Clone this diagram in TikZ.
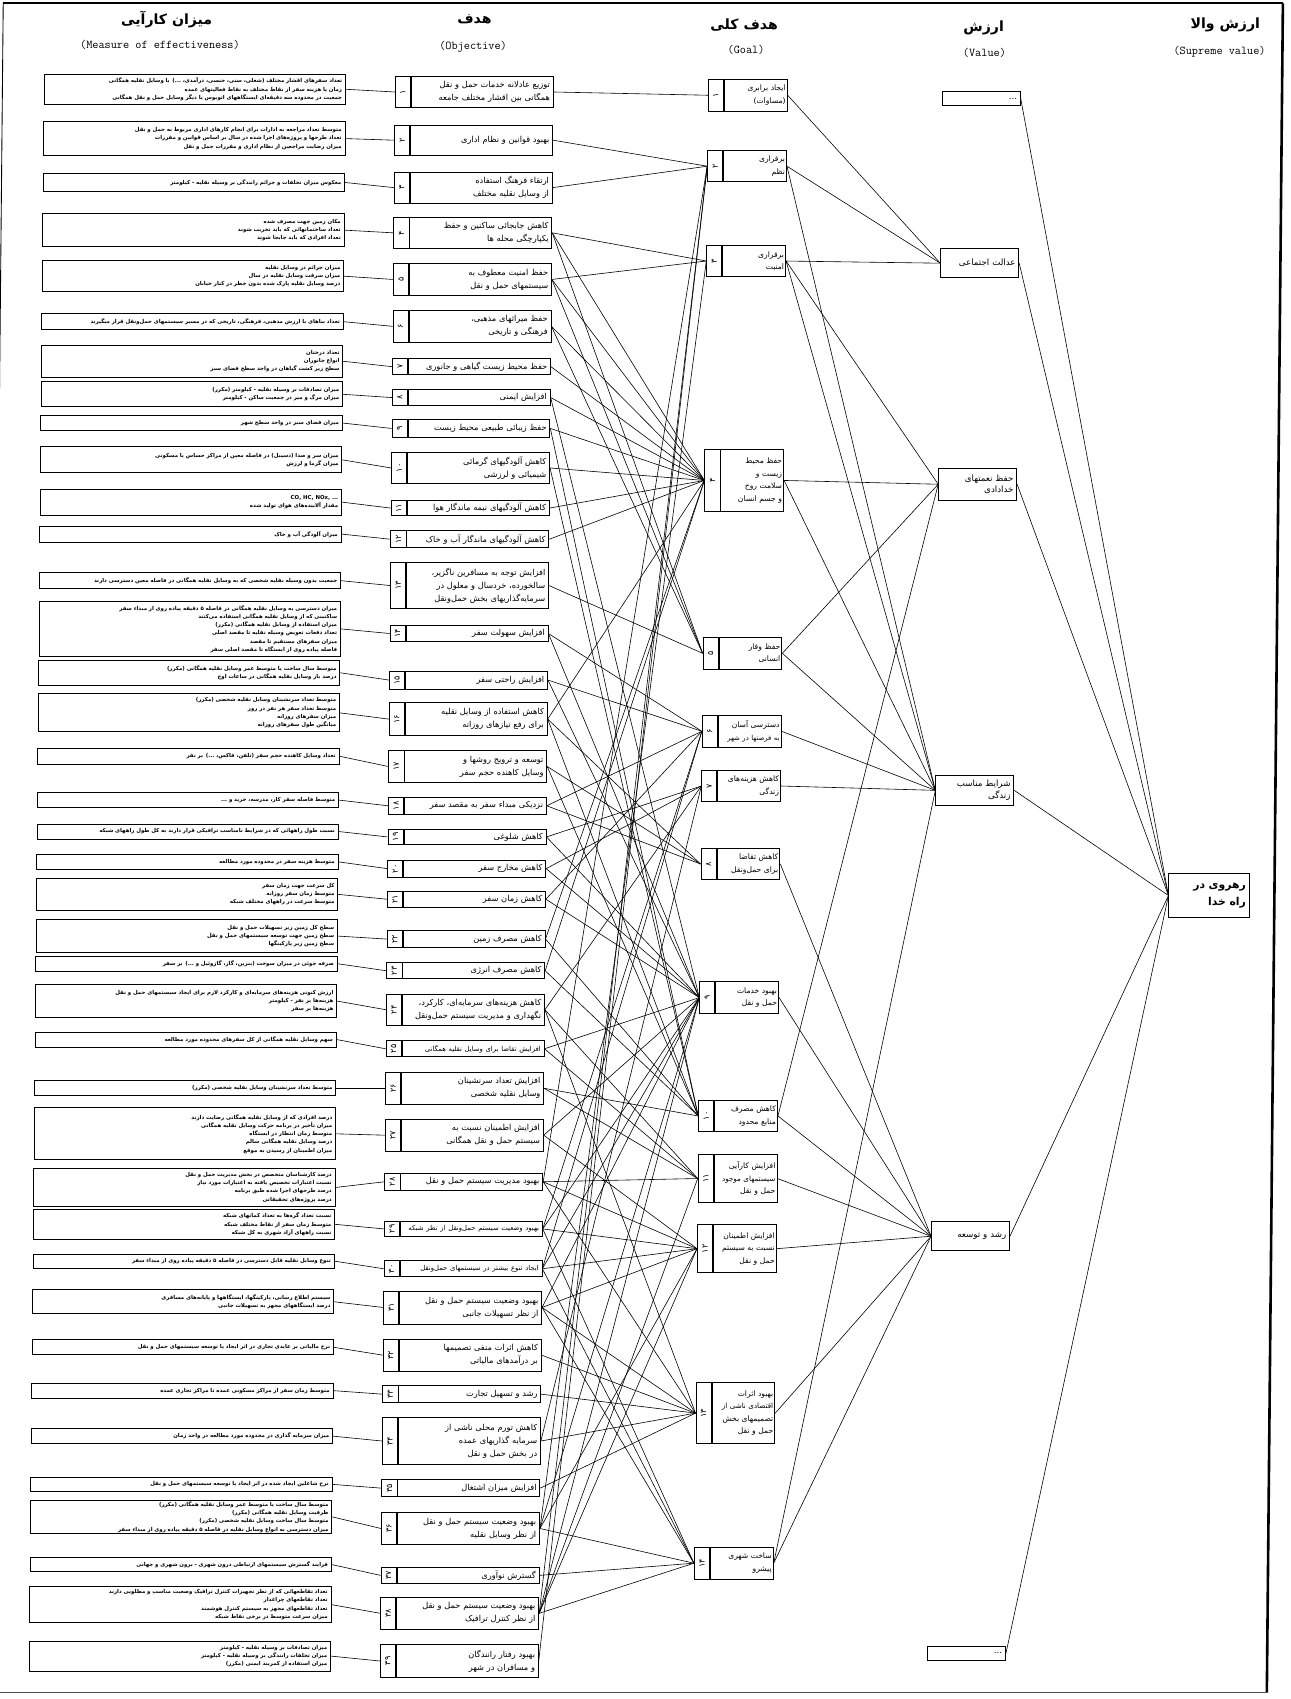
\documentclass[tikz,border=0pt]{standalone}
\usepackage{fontspec}
\usepackage{tikz}
\TeXXeTstate=1
\newfontfamily\fa[Script=Arabic]{DejaVu Sans}
\newcommand{\rl}[1]{\beginR#1\endR}
\newcommand{\rltight}[1]{\mbox{\fontsize{6.3}{12}\selectfont\rl{#1}}}
\newcommand{\boxnum}[1]{\rotatebox{90}{\rl{#1}}}
\tikzstyle{moebox} = [draw, anchor=north west, text width=272pt, inner xsep=3pt, inner ysep=0.5pt, align=right, line width=0.8pt, font=\fa\bfseries\fontsize{5}{7.6}\selectfont]
\tikzstyle{numbox} = [draw, anchor=north west, minimum width=14pt, inner sep=0pt, line width=0.8pt, font=\fa\fontsize{7.5}{7.5}\selectfont]
\tikzstyle{objbox} = [draw, anchor=north west, text width=125pt, inner xsep=3pt, inner ysep=0.5pt, align=right, line width=0.8pt, font=\fa\fontsize{7.6}{12}\selectfont]
\tikzstyle{goalbox} = [draw, anchor=north west, text width=55pt, inner xsep=1.5pt, inner ysep=0.5pt, align=right, line width=0.8pt, font=\fa\fontsize{7}{11.5}\selectfont]
\tikzstyle{valbox} = [draw, anchor=north west, text width=66pt, inner xsep=3pt, inner ysep=0.5pt, align=right, line width=0.8pt, font=\fa\fontsize{8}{11}\selectfont]
\tikzstyle{supbox} = [draw, anchor=north west, text width=68pt, inner xsep=3pt, align=right, line width=0.9pt, font=\fa\bfseries\fontsize{10}{15}\selectfont]
\tikzstyle{headfa} = [font=\fa\bfseries\fontsize{13}{13}\selectfont]
\tikzstyle{headen} = [font=\ttfamily\fontsize{11}{11}\selectfont]
\tikzstyle{link} = [line width=0.55pt]

\begin{document}
\begin{tikzpicture}[x=1pt, y=-1pt]
    \useasboundingbox (0,0) rectangle (1191,1568);
    \begin{scope}[xslant=0.0095]
    % frame
    \draw[line width=1.6pt] (3,3) -- (1184,3);
    \draw[line width=0.8pt] (3,3) -- (3,1562);
    \draw[line width=2.4pt] (1184,3) -- (1184,1562);
    \draw[line width=1.6pt, black!70] (3,1562) -- (1184,1562);

    % column headings
    \node[headfa] (h1) at (154,18) {\rl{میزان کارآیی}};
    \node[headen] (e1) at (148,41) {(Measure of effectiveness)};
    \node[headfa] (h2) at (438,18) {\rl{هدف}};
    \node[headen] (e2) at (437,43) {(Objective)};
    \node[headfa] (h3) at (687,23) {\rl{هدف کلی}};
    \node[headen] (e3) at (689,46) {(Goal)};
    \node[headfa] (h4) at (908,26) {\rl{ارزش}};
    \node[headen] (e4) at (909,49) {(Value)};
    \node[headfa] (h5) at (1131,23) {\rl{ارزش والا}};
    \node[headen] (e5) at (1126,48) {(Supreme value)};

    % measures of effectiveness
    \node[moebox, minimum height=28pt] (me1) at (41,68) {\rl{تعداد سفرهای اقشار مختلف (شغلی، سنی، جنسی، درآمدی، ...) با وسایل نقلیه همگانی}\\\rl{زمان یا هزینه سفر از نقاط مختلف به نقاط فعالیتهای عمده}\\\rl{جمعیت در محدوده سه دقیقه‌ای ایستگاههای اتوبوس یا دیگر وسایل حمل و نقل همگانی}};
    \node[moebox, minimum height=31pt] (me2) at (41,112) {\rl{متوسط تعداد مراجعه به ادارات برای انجام کارهای اداری مربوط به حمل و نقل}\\\rl{تعداد طرحها و پروژه‌های اجرا شده در سال بر اساس قوانین و مقررات}\\\rl{میزان رضایت مراجعین از نظام اداری و مقررات حمل و نقل}};
    \node[moebox, minimum height=16pt] (me3) at (41,160) {\rl{معکوس میزان تخلفات و جرائم رانندگی بر وسیله نقلیه - کیلومتر}};
    \node[moebox, minimum height=30pt] (me4) at (41,197) {\rl{مکان زمین جهت مصرف شده}\\\rl{تعداد ساختمانهائی که باید تخریب شوند}\\\rl{تعداد افرادی که باید جابجا شوند}};
    \node[moebox, minimum height=29pt] (me5) at (41,240) {\rl{میزان جرائم در وسایل نقلیه}\\\rl{میزان سرقت وسایل نقلیه در سال}\\\rl{درصد وسایل نقلیه پارک شده بدون خطر در کنار خیابان}};
    \node[moebox, minimum height=15pt] (me6) at (41,289) {\rl{تعداد بناهای با ارزش مذهبی، فرهنگی، تاریخی که در مسیر سیستمهای حمل‌ونقل قرار میگیرند}};
    \node[moebox, minimum height=30pt] (me7) at (41,318) {\rl{تعداد درختان}\\\rl{انواع جانوران}\\\rl{سطح زیر کشت گیاهان در واحد سطح فضای سبز}};
    \node[moebox, minimum height=23pt] (me8) at (41,352) {\rl{میزان تصادفات بر وسیله نقلیه - کیلومتر (مکرر)}\\\rl{میزان مرگ و میر در جمعیت ساکن - کیلومتر}};
    \node[moebox, minimum height=14pt] (me9) at (41,383) {\rl{میزان فضای سبز در واحد سطح شهر}};
    \node[moebox, minimum height=24pt] (me10) at (41,412) {\rl{میزان سر و صدا (دسیبل) در فاصله معین از مراکز حساس یا مسکونی}\\\rl{میزان گرما و لرزش}};
    \node[moebox, minimum height=24pt] (me11) at (41,451) {\rl{\beginL CO, HC, NOx, ...\endL}\\\rl{مقدار آلاینده‌های هوای تولید شده}};
    \node[moebox, minimum height=15pt] (me12) at (41,485) {\rl{میزان آلودگی آب و خاک}};
    \node[moebox, minimum height=15pt] (me13) at (41,528) {\rl{جمعیت بدون وسیله نقلیه شخصی که به وسایل نقلیه همگانی در فاصله معین دسترسی دارند}};
    \node[moebox, minimum height=50pt] (me14) at (41,555) {\rl{میزان دسترسی به وسایل نقلیه همگانی در فاصله ۵ دقیقه پیاده روی از مبداء سفر}\\\rl{ساکنینی که از وسایل نقلیه همگانی استفاده می‌کنند}\\\rl{میزان استفاده از وسایل نقلیه همگانی (مکرر)}\\\rl{تعداد دفعات تعویض وسیله نقلیه تا مقصد اصلی}\\\rl{میزان سفرهای مستقیم تا مقصد}\\\rl{فاصله پیاده روی از ایستگاه تا مقصد اصلی سفر}};
    \node[moebox, minimum height=23pt] (me15) at (41,609) {\rl{متوسط سال ساخت یا متوسط عمر وسایل نقلیه همگانی (مکرر)}\\\rl{درصد بار وسایل نقلیه همگانی در ساعات اوج}};
    \node[moebox, minimum height=35pt] (me16) at (41,640) {\rl{متوسط تعداد سرنشینان وسایل نقلیه شخصی (مکرر)}\\\rl{متوسط تعداد سفر هر نفر در روز}\\\rl{میزان سفرهای روزانه}\\\rl{میانگین طول سفرهای روزانه}};
    \node[moebox, minimum height=15pt] (me17) at (41,690) {\rl{تعداد وسایل کاهنده حجم سفر (تلفن، فاکس، ...) بر نفر}};
    \node[moebox, minimum height=14pt] (me18) at (41,731) {\rl{متوسط فاصله سفر کار، مدرسه، خرید و ...}};
    \node[moebox, minimum height=14pt] (me19) at (41,760) {\rl{نسبت طول راههائی که در شرایط نامناسب ترافیکی قرار دارند به کل طول راههای شبکه}};
    \node[moebox, minimum height=14pt] (me20) at (41,788) {\rl{متوسط هزینه سفر در محدوده مورد مطالعه}};
    \node[moebox, minimum height=30pt] (me21) at (41,810) {\rl{کل سرعت جهت زمان سفر}\\\rl{متوسط زمان سفر روزانه}\\\rl{متوسط سرعت در راههای مختلف شبکه}};
    \node[moebox, minimum height=31pt] (me22) at (41,848) {\rl{سطح کل زمین زیر تسهیلات حمل و نقل}\\\rl{سطح زمین جهت توسعه سیستمهای حمل و نقل}\\\rl{سطح زمین زیر پارکینگها}};
    \node[moebox, minimum height=14pt] (me23) at (41,882) {\rl{صرفه جوئی در میزان سوخت (بنزین، گاز، گازوئیل و ...) بر سفر}};
    \node[moebox, minimum height=31pt] (me24) at (41,908) {\rl{ارزش کنونی هزینه‌های سرمایه‌ای و کارکرد لازم برای ایجاد سیستمهای حمل و نقل}\\\rl{هزینه‌ها بر نفر - کیلومتر}\\\rl{هزینه‌ها بر سفر}};
    \node[moebox, minimum height=14pt] (me25) at (41,952) {\rl{سهم وسایل نقلیه همگانی از کل سفرهای محدوده مورد مطالعه}};
    \node[moebox, minimum height=14pt] (me26) at (41,997) {\rl{متوسط تعداد سرنشینان وسایل نقلیه شخصی (مکرر)}};
    \node[moebox, minimum height=48pt] (me27) at (41,1022) {\rl{درصد افرادی که از وسایل نقلیه همگانی رضایت دارند}\\\rl{میزان تأخیر در برنامه حرکت وسایل نقلیه همگانی}\\\rl{متوسط زمان انتظار در ایستگاه}\\\rl{درصد وسایل نقلیه همگانی سالم}\\\rl{میزان اطمینان از رسیدن به موقع}};
    \node[moebox, minimum height=35pt] (me28) at (41,1078) {\rl{درصد کارشناسان متخصص در بخش مدیریت حمل و نقل}\\\rl{نسبت اعتبارات تخصیص یافته به اعتبارات مورد نیاز}\\\rl{درصد طرحهای اجرا شده طبق برنامه}\\\rl{درصد پروژه‌های تحقیقاتی}};
    \node[moebox, minimum height=27pt] (me29) at (41,1116) {\rl{نسبت تعداد گره‌ها به تعداد کمانهای شبکه}\\\rl{متوسط زمان سفر از نقاط مختلف شبکه}\\\rl{نسبت راههای آزاد شهری به کل شبکه}};
    \node[moebox, minimum height=13pt] (me30) at (41,1157) {\rl{تنوع وسایل نقلیه قابل دسترسی در فاصله ۵ دقیقه پیاده روی از مبداء سفر}};
    \node[moebox, minimum height=22pt] (me31) at (41,1190) {\rl{سیستم اطلاع رسانی، پارکینگها، ایستگاهها و پایانه‌های مسافری}\\\rl{درصد ایستگاههای مجهز به تسهیلات جانبی}};
    \node[moebox, minimum height=14pt] (me32) at (41,1236) {\rl{نرخ مالیاتی بر عایدی تجاری در اثر ایجاد یا توسعه سیستمهای حمل و نقل}};
    \node[moebox, minimum height=14pt] (me33) at (41,1276) {\rl{متوسط زمان سفر از مراکز مسکونی عمده تا مراکز تجاری عمده}};
    \node[moebox, minimum height=14pt] (me34) at (41,1318) {\rl{میزان سرمایه گذاری در محدوده مورد مطالعه در واحد زمان}};
    \node[moebox, minimum height=13pt] (me35) at (41,1363) {\rl{نرخ شاغلین ایجاد شده در اثر ایجاد یا توسعه سیستمهای حمل و نقل}};
    \node[moebox, minimum height=31pt] (me36) at (41,1384) {\rl{متوسط سال ساخت یا متوسط عمر وسایل نقلیه همگانی (مکرر)}\\\rl{ظرفیت وسایل نقلیه همگانی (مکرر)}\\\rl{متوسط سال ساخت وسایل نقلیه شخصی (مکرر)}\\\rl{میزان دسترسی به انواع وسایل نقلیه در فاصله ۵ دقیقه پیاده روی از مبداء سفر}};
    \node[moebox, minimum height=13pt] (me37) at (41,1437) {\rl{فرایند گسترش سیستمهای ارتباطی درون شهری - برون شهری و جهانی}};
    \node[moebox, minimum height=33pt] (me38) at (41,1464) {\rl{تعداد تقاطعهائی که از نظر تجهیزات کنترل ترافیک وضعیت مناسب و مطلوبی دارند}\\\rl{تعداد تقاطعهای چراغدار}\\\rl{تعداد تقاطعهای مجهز به سیستم کنترل هوشمند}\\\rl{میزان سرعت متوسط در برخی نقاط شبکه}};
    \node[moebox, minimum height=28pt] (me39) at (41,1514) {\rl{میزان تصادفات بر وسیله نقلیه - کیلومتر}\\\rl{میزان تخلفات رانندگی بر وسیله نقلیه - کیلومتر}\\\rl{میزان استفاده از کمربند ایمنی (مکرر)}};

    % objectives
    \node[numbox, minimum height=29pt] (obn1) at (365,70) {\boxnum{۱}};
    \node[objbox, minimum height=29pt] (ob1) at (obn1.north east) {\rl{توزیع عادلانه خدمات حمل و نقل}\\\rl{همگانی بین اقشار مختلف جامعه}};
    \node[numbox, minimum height=28pt] (obn2) at (365,115) {\boxnum{۲}};
    \node[objbox, minimum height=28pt] (ob2) at (obn2.north east) {\rl{بهبود قوانین و نظام اداری}};
    \node[numbox, minimum height=28.5pt] (obn3) at (365,158.5) {\boxnum{۳}};
    \node[objbox, minimum height=28.5pt] (ob3) at (obn3.north east) {\rl{ارتقاء فرهنگ استفاده}\\\rl{از وسایل نقلیه مختلف}};
    \node[numbox, minimum height=29pt] (obn4) at (365,200) {\boxnum{۴}};
    \node[objbox, minimum height=29pt] (ob4) at (obn4.north east) {\rl{کاهش جابجائی ساکنین و حفظ}\\\rl{یکپارچگی محله ها}};
    \node[numbox, minimum height=29pt] (obn5) at (365,243) {\boxnum{۵}};
    \node[objbox, minimum height=29pt] (ob5) at (obn5.north east) {\rl{حفظ امنیت معطوف به}\\\rl{سیستمهای حمل و نقل}};
    \node[numbox, minimum height=29.5pt] (obn6) at (365,286) {\boxnum{۶}};
    \node[objbox, minimum height=29.5pt] (ob6) at (obn6.north east) {\rl{حفظ میراثهای مذهبی،}\\\rl{فرهنگی و تاریخی}};
    \node[numbox, minimum height=15pt] (obn7) at (365,330.5) {\boxnum{۷}};
    \node[objbox, minimum height=15pt] (ob7) at (obn7.north east) {\rl{حفظ محیط زیست گیاهی و جانوری}};
    \node[numbox, minimum height=15pt] (obn8) at (365,359) {\boxnum{۸}};
    \node[objbox, minimum height=15pt] (ob8) at (obn8.north east) {\rl{افزایش ایمنی}};
    \node[numbox, minimum height=16pt] (obn9) at (365,387) {\boxnum{۹}};
    \node[objbox, minimum height=16pt] (ob9) at (obn9.north east) {\rl{حفظ زیبائی طبیعی محیط زیست}};
    \node[numbox, minimum height=29pt] (obn10) at (365,417) {\boxnum{۱۰}};
    \node[objbox, minimum height=29pt] (ob10) at (obn10.north east) {\rl{کاهش آلودگیهای گرمائی}\\\rl{شیمیائی و لرزشی}};
    \node[numbox, minimum height=14pt] (obn11) at (365,461.5) {\boxnum{۱۱}};
    \node[objbox, minimum height=14pt] (ob11) at (obn11.north east) {\rl{کاهش آلودگیهای نیمه ماندگار هوا}};
    \node[numbox, minimum height=15.5pt] (obn12) at (365,489.5) {\boxnum{۱۲}};
    \node[objbox, minimum height=15.5pt] (ob12) at (obn12.north east) {\rl{کاهش آلودگیهای ماندگار آب و خاک}};
    \node[numbox, minimum height=43pt] (obn13) at (365,518.5) {\boxnum{۱۳}};
    \node[objbox, minimum height=43pt] (ob13) at (obn13.north east) {\rl{افزایش توجه به مسافرین ناگزیر،}\\\rl{سالخورده، خردسال و معلول در}\\\rl{سرمایه‌گذاریهای بخش حمل‌ونقل}};
    \node[numbox, minimum height=14.5pt] (obn14) at (365,577) {\boxnum{۱۴}};
    \node[objbox, minimum height=14.5pt] (ob14) at (obn14.north east) {\rl{افزایش سهولت سفر}};
    \node[numbox, minimum height=16.5pt] (obn15) at (365,619) {\boxnum{۱۵}};
    \node[objbox, minimum height=16.5pt] (ob15) at (obn15.north east) {\rl{افزایش راحتی سفر}};
    \node[numbox, minimum height=30.5pt] (obn16) at (365,648) {\boxnum{۱۶}};
    \node[objbox, minimum height=30.5pt] (ob16) at (obn16.north east) {\rl{کاهش استفاده از وسایل نقلیه}\\\rl{برای رفع نیازهای روزانه}};
    \node[numbox, minimum height=29pt] (obn17) at (365,692.5) {\boxnum{۱۷}};
    \node[objbox, minimum height=29pt] (ob17) at (obn17.north east) {\rl{توسعه و ترویج روشها و}\\\rl{وسایل کاهنده حجم سفر}};
    \node[numbox, minimum height=15.5pt] (obn18) at (365,735.5) {\boxnum{۱۸}};
    \node[objbox, minimum height=15.5pt] (ob18) at (obn18.north east) {\rl{نزدیکی مبداء سفر به مقصد سفر}};
    \node[numbox, minimum height=14pt] (obn19) at (365,765) {\boxnum{۱۹}};
    \node[objbox, minimum height=14pt] (ob19) at (obn19.north east) {\rl{کاهش شلوغی}};
    \node[numbox, minimum height=15.5pt] (obn20) at (365,793.5) {\boxnum{۲۰}};
    \node[objbox, minimum height=15.5pt] (ob20) at (obn20.north east) {\rl{کاهش مخارج سفر}};
    \node[numbox, minimum height=15pt] (obn21) at (365,822) {\boxnum{۲۱}};
    \node[objbox, minimum height=15pt] (ob21) at (obn21.north east) {\rl{کاهش زمان سفر}};
    \node[numbox, minimum height=15.5pt] (obn22) at (365,858.5) {\boxnum{۲۲}};
    \node[objbox, minimum height=15.5pt] (ob22) at (obn22.north east) {\rl{کاهش مصرف زمین}};
    \node[numbox, minimum height=15pt] (obn23) at (365,888) {\boxnum{۲۳}};
    \node[objbox, minimum height=15pt] (ob23) at (obn23.north east) {\rl{کاهش مصرف انرژی}};
    \node[numbox, minimum height=29pt] (obn24) at (365,917) {\boxnum{۲۴}};
    \node[objbox, minimum height=29pt] (ob24) at (obn24.north east) {\rl{کاهش هزینه‌های سرمایه‌ای، کارکرد،}\\\rl{نگهداری و مدیریت سیستم حمل‌ونقل}};
    \node[numbox, minimum height=15pt] (obn25) at (365,960) {\boxnum{۲۵}};
    \node[objbox, minimum height=15pt] (ob25) at (obn25.north east) {\rltight{افزایش تقاضا برای وسایل نقلیه همگانی}};
    \node[numbox, minimum height=29pt] (obn26) at (365,989.5) {\boxnum{۲۶}};
    \node[objbox, minimum height=29pt] (ob26) at (obn26.north east) {\rl{افزایش تعداد سرنشینان}\\\rl{وسایل نقلیه شخصی}};
    \node[numbox, minimum height=29.5pt] (obn27) at (365,1032.5) {\boxnum{۲۷}};
    \node[objbox, minimum height=29.5pt] (ob27) at (obn27.north east) {\rl{افزایش اطمینان نسبت به}\\\rl{سیستم حمل و نقل همگانی}};
    \node[numbox, minimum height=15.5pt] (obn28) at (365,1082.5) {\boxnum{۲۸}};
    \node[objbox, minimum height=15.5pt] (ob28) at (obn28.north east) {\rl{بهبود مدیریت سیستم حمل و نقل}};
    \node[numbox, minimum height=14.5pt] (obn29) at (365,1126.5) {\boxnum{۲۹}};
    \node[objbox, minimum height=14.5pt] (ob29) at (obn29.north east) {\rltight{بهبود وضعیت سیستم حمل‌ونقل از نظر شبکه}};
    \node[numbox, minimum height=15pt] (obn30) at (365,1163) {\boxnum{۳۰}};
    \node[objbox, minimum height=15pt] (ob30) at (obn30.north east) {\rltight{ایجاد تنوع بیشتر در سیستمهای حمل‌ونقل}};
    \node[numbox, minimum height=30.5pt] (obn31) at (365,1191) {\boxnum{۳۱}};
    \node[objbox, minimum height=30.5pt] (ob31) at (obn31.north east) {\rl{بهبود وضعیت سیستم حمل و نقل}\\\rl{از نظر تسهیلات جانبی}};
    \node[numbox, minimum height=29.5pt] (obn32) at (365,1235.5) {\boxnum{۳۲}};
    \node[objbox, minimum height=29.5pt] (ob32) at (obn32.north east) {\rl{کاهش اثرات منفی تصمیمها}\\\rl{بر درآمدهای مالیاتی}};
    \node[numbox, minimum height=15.5pt] (obn33) at (365,1278.5) {\boxnum{۳۳}};
    \node[objbox, minimum height=15.5pt] (ob33) at (obn33.north east) {\rl{رشد و تسهیل تجارت}};
    \node[numbox, minimum height=43pt] (obn34) at (365,1308) {\boxnum{۳۴}};
    \node[objbox, minimum height=43pt] (ob34) at (obn34.north east) {\rl{کاهش تورم محلی ناشی از}\\\rl{سرمایه گذاریهای عمده}\\\rl{در بخش حمل و نقل}};
    \node[numbox, minimum height=16pt] (obn35) at (365,1365) {\boxnum{۳۵}};
    \node[objbox, minimum height=16pt] (ob35) at (obn35.north east) {\rl{افزایش میزان اشتغال}};
    \node[numbox, minimum height=29.5pt] (obn36) at (365,1395.5) {\boxnum{۳۶}};
    \node[objbox, minimum height=29.5pt] (ob36) at (obn36.north east) {\rl{بهبود وضعیت سیستم حمل و نقل}\\\rl{از نظر وسایل نقلیه}};
    \node[numbox, minimum height=15pt] (obn37) at (365,1446) {\boxnum{۳۷}};
    \node[objbox, minimum height=15pt] (ob37) at (obn37.north east) {\rl{گسترش نوآوری}};
    \node[numbox, minimum height=29pt] (obn38) at (365,1474) {\boxnum{۳۸}};
    \node[objbox, minimum height=29pt] (ob38) at (obn38.north east) {\rl{بهبود وضعیت سیستم حمل و نقل}\\\rl{از نظر کنترل ترافیک}};
    \node[numbox, minimum height=31pt] (obn39) at (365,1517) {\boxnum{۳۹}};
    \node[objbox, minimum height=31pt] (ob39) at (obn39.north east) {\rl{بهبود رفتار رانندگان}\\\rl{و مسافران در شهر}};

    % goals
    \node[numbox, minimum height=29pt] (gln1) at (654,73) {\boxnum{۱}};
    \node[goalbox, minimum height=29pt] (gl1) at (gln1.north east) {\rl{ایجاد برابری}\\\rl{(مساوات)}};
    \node[numbox, minimum height=29pt] (gln2) at (654,138.5) {\boxnum{۲}};
    \node[goalbox, minimum height=29pt] (gl2) at (gln2.north east) {\rl{برقراری}\\\rl{نظم}};
    \node[numbox, minimum height=29pt] (gln3) at (654,226) {\boxnum{۳}};
    \node[goalbox, minimum height=29pt] (gl3) at (gln3.north east) {\rl{برقراری}\\\rl{امنیت}};
    \node[numbox, minimum height=58pt] (gln4) at (654,414) {\boxnum{۴}};
    \node[goalbox, minimum height=58pt] (gl4) at (gln4.north east) {\rl{حفظ محیط}\\\rl{زیست و}\\\rl{سلامت روح}\\\rl{و جسم انسان}};
    \node[numbox, minimum height=29pt] (gln5) at (654,588) {\boxnum{۵}};
    \node[goalbox, minimum height=29pt] (gl5) at (gln5.north east) {\rl{حفظ وقار}\\\rl{انسانی}};
    \node[numbox, minimum height=29pt] (gln6) at (654,660) {\boxnum{۶}};
    \node[goalbox, minimum height=29pt] (gl6) at (gln6.north east) {\rl{دسترسی آسان}\\\mbox{\fontsize{6.3}{11.5}\selectfont\rl{به فرصتها در شهر}}};
    \node[numbox, minimum height=28pt] (gln7) at (654,711) {\boxnum{۷}};
    \node[goalbox, minimum height=28pt] (gl7) at (gln7.north east) {\rl{کاهش هزینه‌های}\\\rl{زندگی}};
    \node[numbox, minimum height=28pt] (gln8) at (654,783) {\boxnum{۸}};
    \node[goalbox, minimum height=28pt] (gl8) at (gln8.north east) {\rl{کاهش تقاضا}\\\rl{برای حمل‌ونقل}};
    \node[numbox, minimum height=29.5pt] (gln9) at (654,905.5) {\boxnum{۹}};
    \node[goalbox, minimum height=29.5pt] (gl9) at (gln9.north east) {\rl{بهبود خدمات}\\\rl{حمل و نقل}};
    \node[numbox, minimum height=29pt] (gln10) at (654,1015) {\boxnum{۱۰}};
    \node[goalbox, minimum height=29pt] (gl10) at (gln10.north east) {\rl{کاهش مصرف}\\\rl{منابع محدود}};
    \node[numbox, minimum height=44.5pt] (gln11) at (654,1065) {\boxnum{۱۱}};
    \node[goalbox, minimum height=44.5pt] (gl11) at (gln11.north east) {\rl{افزایش کارآیی}\\\mbox{\fontsize{6.6}{11.5}\selectfont\rl{سیستمهای موجود}}\\\rl{حمل و نقل}};
    \node[numbox, minimum height=44pt] (gln12) at (654,1130) {\boxnum{۱۲}};
    \node[goalbox, minimum height=44pt] (gl12) at (gln12.north east) {\rl{افزایش اطمینان}\\\rl{نسبت به سیستم}\\\rl{حمل و نقل}};
    \node[numbox, minimum height=56.5pt] (gln13) at (654,1275.5) {\boxnum{۱۳}};
    \node[goalbox, minimum height=56.5pt] (gl13) at (gln13.north east) {\rl{بهبود اثرات}\\\mbox{\fontsize{6.6}{11.5}\selectfont\rl{اقتصادی ناشی از}}\\\rl{تصمیمهای بخش}\\\rl{حمل و نقل}};
    \node[numbox, minimum height=29.5pt] (gln14) at (654,1427.5) {\boxnum{۱۴}};
    \node[goalbox, minimum height=29.5pt] (gl14) at (gln14.north east) {\rl{ساخت شهری}\\\rl{پیشرو}};

    % values
    \node[valbox, minimum height=13pt] (va0) at (870,84) {...};
    \node[valbox, minimum height=27pt] (va1) at (870,229) {\rl{عدالت اجتماعی}};
    \node[valbox, minimum height=29pt] (va2) at (870,432) {\rl{حفظ نعمتهای}\\\rl{خدادادی}};
    \node[valbox, minimum height=28pt] (va3) at (870,715) {\rl{شرایط مناسب}\\\rl{زندگی}};
    \node[valbox, minimum height=27pt] (va4) at (870,1127) {\rl{رشد و توسعه}};
    \node[valbox, minimum height=13pt] (va5) at (870,1519) {...};

    % supreme value
    \node[supbox, minimum height=40pt] (sv) at (1086,806) {\rl{رهروی در}\\\rl{راه خدا}};

    % connectors
    \foreach \i in {1,...,39}
        \draw[link] (me\i.east) -- (obn\i.west);
    \foreach \o/\g in {1/1, 2/2, 3/2, 28/2, 38/2, 39/2, 4/3, 5/3, 36/3,
        4/4, 5/4, 6/4, 7/4, 8/4, 9/4, 10/4, 11/4, 12/4, 16/4, 22/4, 23/4,
        4/5, 5/5, 6/5, 13/5, 14/6, 15/6, 18/6, 21/6, 29/6, 30/6,
        19/7, 20/7, 24/7, 34/7, 16/8, 17/8, 18/8,
        8/9, 14/9, 15/9, 19/9, 20/9, 21/9, 25/9, 27/9, 29/9, 30/9, 31/9, 36/9, 38/9,
        9/10, 10/10, 16/10, 17/10, 22/10, 23/10, 26/10,
        24/11, 25/11, 26/11, 28/11, 38/11,
        27/12, 28/12, 29/12, 30/12, 31/12, 36/12, 38/12,
        24/13, 28/13, 31/13, 32/13, 33/13, 34/13, 35/13,
        29/14, 30/14, 31/14, 36/14, 37/14, 38/14}
        \draw[link] (ob\o.east) -- (gln\g.west);
    \foreach \g/\v in {1/1, 2/1, 3/1, 3/2, 4/2, 5/2, 10/2,
        2/3, 3/3, 4/3, 5/3, 6/3, 7/3, 14/3,
        8/4, 9/4, 10/4, 11/4, 12/4, 13/4, 14/4}
        \draw[link] (gl\g.east) -- (va\v.west);
    \foreach \v in {0,...,5}
        \draw[link] (va\v.east) -- (sv.west);
    \end{scope}
\end{tikzpicture}
\end{document}
